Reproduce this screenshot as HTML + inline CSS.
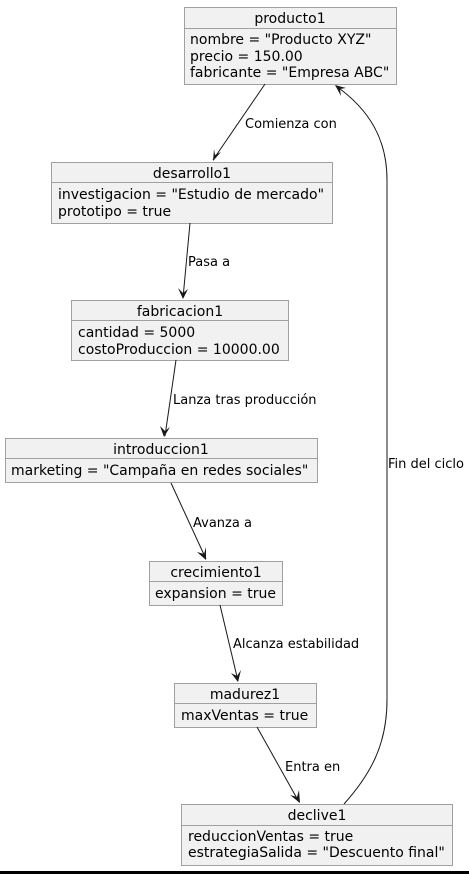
<!DOCTYPE html>
<html><head><meta charset="utf-8"><style>
html,body{margin:0;padding:0;background:#fff;width:469px;height:874px;overflow:hidden}
text{font-family:"DejaVu Sans","Liberation Sans",sans-serif;font-size:14px;fill:#000}
text.l{font-size:13px}
.b{fill:#f1f1f1;stroke:#a0a0a0;stroke-width:1}
.e{stroke:#181818;stroke-width:1;fill:none}
.a{fill:#181818}
</style></head><body>
<svg width="469" height="874" xmlns="http://www.w3.org/2000/svg">
<rect class="b" x="184.5" y="7.5" width="212" height="77"/>
<line class="b" x1="184.5" y1="28.5" x2="396.5" y2="28.5"/>
<text x="290" y="23" text-anchor="middle">producto1</text>
<text x="190" y="44">nombre = "Producto XYZ"</text>
<text x="190" y="61">precio = 150.00</text>
<text x="190" y="77">fabricante = "Empresa ABC"</text>
<rect class="b" x="51.5" y="162.5" width="281" height="61"/>
<line class="b" x1="51.5" y1="182.5" x2="332.5" y2="182.5"/>
<text x="192" y="178" text-anchor="middle">desarrollo1</text>
<text x="58" y="199">investigacion = "Estudio de mercado"</text>
<text x="58" y="216">prototipo = true</text>
<rect class="b" x="71.5" y="300.5" width="217" height="60"/>
<line class="b" x1="71.5" y1="320.5" x2="288.5" y2="320.5"/>
<text x="180" y="316" text-anchor="middle">fabricacion1</text>
<text x="78" y="337">cantidad = 5000</text>
<text x="78" y="354">costoProduccion = 10000.00</text>
<rect class="b" x="5.5" y="438.5" width="312" height="44"/>
<line class="b" x1="5.5" y1="458.5" x2="317.5" y2="458.5"/>
<text x="161" y="454" text-anchor="middle">introduccion1</text>
<text x="11" y="475">marketing = "Campaña en redes sociales"</text>
<rect class="b" x="149.5" y="561.5" width="133" height="44"/>
<line class="b" x1="149.5" y1="581.5" x2="282.5" y2="581.5"/>
<text x="216" y="577" text-anchor="middle">crecimiento1</text>
<text x="155" y="598">expansion = true</text>
<rect class="b" x="174.5" y="683.5" width="142" height="44"/>
<line class="b" x1="174.5" y1="703.5" x2="316.5" y2="703.5"/>
<text x="245" y="699" text-anchor="middle">madurez1</text>
<text x="181" y="720">maxVentas = true</text>
<rect class="b" x="181.5" y="804.5" width="271" height="61"/>
<line class="b" x1="181.5" y1="825.5" x2="452.5" y2="825.5"/>
<text x="317" y="820" text-anchor="middle">declive1</text>
<text x="188" y="841">reduccionVentas = true</text>
<text x="188" y="857">estrategiaSalida = "Descuento final"</text>
<line class="e" x1="265" y1="84" x2="213" y2="160"/>
<path class="a" d="M213,161 L214,149 L215,155 L221,152 Z"/>
<text class="l" x="245" y="128">Comienza con</text>
<line class="e" x1="190" y1="223" x2="183" y2="298"/>
<path class="a" d="M183,299 L178,288 L183,293 L188,289 Z"/>
<text class="l" x="188" y="266">Pasa a</text>
<line class="e" x1="176" y1="360" x2="165" y2="436"/>
<path class="a" d="M164,437 L160,426 L165,431 L170,427 Z"/>
<text class="l" x="173" y="404">Lanza tras producción</text>
<line class="e" x1="171" y1="483" x2="206" y2="559"/>
<path class="a" d="M206,560 L197,552 L204,554 L206,547 Z"/>
<text class="l" x="193" y="527">Avanza a</text>
<line class="e" x1="220" y1="605" x2="238" y2="681"/>
<path class="a" d="M238,682 L231,673 L237,676 L241,670 Z"/>
<text class="l" x="233" y="648">Alcanza estabilidad</text>
<line class="e" x1="257" y1="727" x2="299" y2="802"/>
<path class="a" d="M300,803 L290,795 L297,797 L299,790 Z"/>
<text class="l" x="285" y="771">Entra en</text>
<path class="e" d="M344,804 C370,775 387,745 387,700 L387,180 C387,140 370,110 336,86"/>
<path class="a" d="M335,85 L346,88 L340,89 L341,96 Z"/>
<text class="l" x="388" y="468">Fin del ciclo</text>
<rect x="0" y="871" width="469" height="3" fill="#000"/>
</svg>
</body></html>
